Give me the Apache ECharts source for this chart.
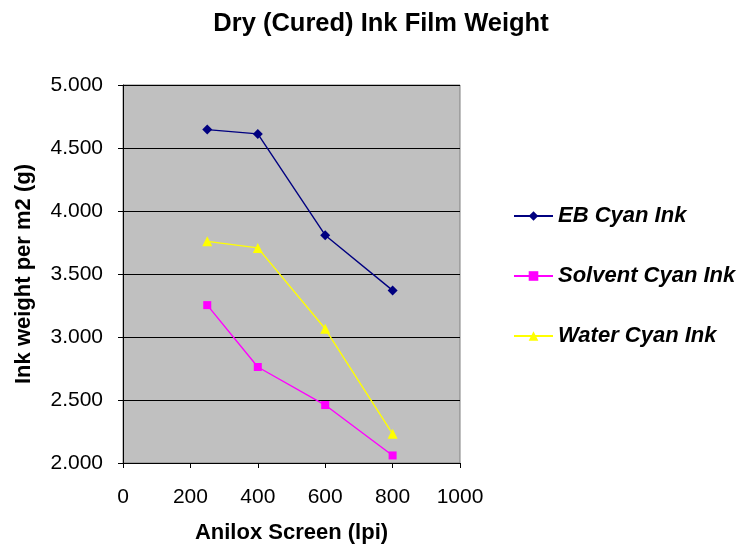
<!DOCTYPE html>
<html>
<head>
<meta charset="utf-8">
<script src="https://cdn.jsdelivr.net/npm/echarts@6/dist/echarts.min.js"></script>
<style>
  html, body { margin: 0; padding: 0; background: #ffffff; }
  #chart { width: 739px; height: 550px; }
</style>
</head>
<body>
<div id="chart"></div>
<script>
// Anilox screen rulings (lpi)
const screens = [250, 400, 600, 800];
// Dry ink film weight per m2 (g)
const ebCyan = [4.646, 4.612, 3.808, 3.370];
const solventCyan = [3.253, 2.762, 2.460, 2.060];
const waterCyan = [3.759, 3.707, 3.065, 2.232];
const seriesNames = ['EB Cyan Ink', 'Solvent Cyan Ink', 'Water Cyan Ink'];

const FONT = '"Liberation Sans", Arial, Helvetica, sans-serif';

function pairs(values) {
  return screens.map((x, i) => [x, values[i]]);
}

function lineSeries(name, values, color, symbol, size) {
  return {
    name: name,
    type: 'line',
    data: pairs(values),
    symbol: symbol,
    symbolSize: size,
    showAllSymbol: true,
    lineStyle: { color: color, width: 1.4 },
    itemStyle: { color: color },
    emphasis: { disabled: true },
    animation: false
  };
}

const chart = echarts.init(document.getElementById('chart'), null, { renderer: 'canvas' });

chart.setOption({
  backgroundColor: '#ffffff',
  animation: false,
  title: {
    text: 'Dry (Cured) Ink Film Weight',
    left: 376,
    top: 6,
    textAlign: 'center',
    textStyle: { fontFamily: FONT, fontSize: 25.5, fontWeight: 'bold', color: '#000' }
  },
  grid: {
    left: 123,
    right: 279,
    top: 85,
    bottom: 87,
    show: true,
    backgroundColor: '#C0C0C0',
    borderColor: '#808080',
    borderWidth: 1
  },
  legend: {
    orient: 'vertical',
    left: 508,
    top: 199,
    itemWidth: 39,
    itemHeight: 12,
    itemGap: 36,
    textStyle: {
      fontFamily: FONT, fontSize: 22, fontWeight: 'bold', fontStyle: 'italic',
      color: '#000', lineHeight: 24
    },
    data: seriesNames
  },
  xAxis: {
    type: 'value',
    min: 0,
    max: 1000,
    interval: 200,
    name: 'Anilox Screen (lpi)',
    nameLocation: 'middle',
    nameGap: 59,
    nameTextStyle: { fontFamily: FONT, fontSize: 22, fontWeight: 'bold', color: '#000' },
    axisLine: { show: true, lineStyle: { color: '#000', width: 1 } },
    axisTick: { show: true, inside: false, length: 5, lineStyle: { color: '#000' } },
    axisLabel: {
      fontFamily: FONT, fontSize: 21, color: '#000', margin: 24,
      formatter: v => String(v)
    },
    splitLine: { show: false }
  },
  yAxis: {
    type: 'value',
    min: 2,
    max: 5,
    interval: 0.5,
    name: 'Ink weight per m2 (g)',
    nameLocation: 'middle',
    nameGap: 88,
    nameRotate: 90,
    nameTextStyle: { fontFamily: FONT, fontSize: 22, fontWeight: 'bold', color: '#000' },
    axisLine: { show: true, lineStyle: { color: '#000', width: 1 } },
    axisTick: { show: true, inside: false, length: 5, lineStyle: { color: '#000' } },
    axisLabel: {
      fontFamily: FONT, fontSize: 21, color: '#000', margin: 20,
      formatter: v => v.toFixed(3)
    },
    splitLine: { show: true, lineStyle: { color: '#000', width: 1 } }
  },
  series: [
    lineSeries(seriesNames[0], ebCyan, '#000080', 'diamond', 10),
    lineSeries(seriesNames[1], solventCyan, '#FF00FF', 'rect', 8),
    lineSeries(seriesNames[2], waterCyan, '#FFFF00', 'triangle', 10)
  ]
});
</script>
</body>
</html>
